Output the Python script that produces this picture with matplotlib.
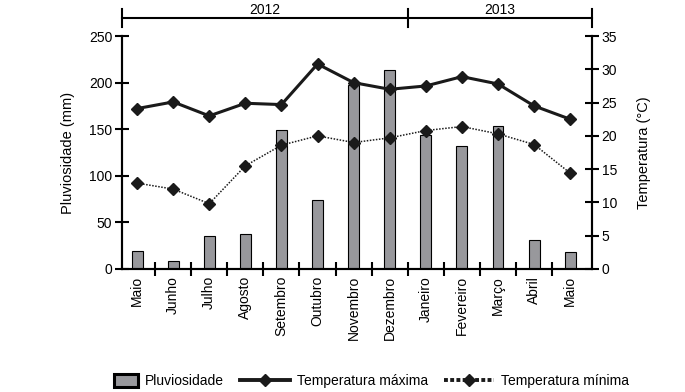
import matplotlib
matplotlib.use("Agg")
import matplotlib.pyplot as plt
import matplotlib.transforms as mtrans
from matplotlib.patches import Patch, Rectangle
from matplotlib.lines import Line2D
from matplotlib.legend_handler import HandlerPatch
import numpy as np

plt.rcParams['font.family'] = ['Liberation Sans', 'DejaVu Sans']
plt.rcParams['font.size'] = 10

meses = ['Maio', 'Junho', 'Julho', 'Agosto', 'Setembro', 'Outubro', 'Novembro',
         'Dezembro', 'Janeiro', 'Fevereiro', 'Março', 'Abril', 'Maio']
pluviosidade = [19, 9, 35, 38, 149, 74, 197, 214, 144, 132, 153, 31, 18]
temp_max = [24.1, 25.1, 23.0, 24.9, 24.7, 30.8, 28.0, 27.0, 27.5, 28.9, 27.8, 24.5, 22.5]
temp_min = [12.9, 12.0, 9.8, 15.5, 18.6, 20.0, 19.0, 19.7, 20.8, 21.4, 20.3, 18.7, 14.4]
anos = ['2012', '2013']
n_2012 = 8

x = np.arange(len(meses))

fig = plt.figure(figsize=(6.85, 3.92), dpi=100)
ax = fig.add_axes([0.178, 0.314, 0.686, 0.594])
ax2 = ax.twinx()

ax.bar(x, pluviosidade, width=0.3, color='#98989c', edgecolor='black', linewidth=0.8, zorder=1)
ax.set_ylim(0, 250)
ax.set_yticks(np.arange(0, 251, 50))
ax.set_xlim(-0.42, 12.6)
ax.set_xticks(x)
ax.set_xticklabels(meses, rotation=90)
ax.tick_params(axis='x', length=0, pad=5)
ax.set_xticks(x[:-1] + 0.5, minor=True)
ax.tick_params(axis='x', which='minor', direction='inout', length=10, width=1.5)
ax.tick_params(axis='y', direction='inout', length=10, width=1.5, pad=2)
ax.set_ylabel('Pluviosidade (mm)', fontsize=10.5, labelpad=10)

ax2.plot(x, temp_max, color='#1a1a1a', lw=2.2, marker='D', ms=6.5, zorder=3)
ax2.plot(x, temp_min, color='#1a1a1a', lw=1.1, ls=(0, (1, 1)), marker='D', ms=6.5, zorder=3)
ax2.set_ylim(0, 35)
ax2.set_yticks(np.arange(0, 36, 5))
ax2.tick_params(axis='y', direction='inout', length=10, width=1.5, pad=2)
ax2.set_ylabel('Temperatura (°C)', fontsize=10.5, labelpad=14)

for a in (ax, ax2):
    a.spines['top'].set_visible(False)
    for s in ('left', 'right', 'bottom'):
        a.spines[s].set_linewidth(1.5)

# year bracket above the axes
tr = mtrans.blended_transform_factory(ax.transData, ax.transAxes)
x0, x1 = ax.get_xlim()
div = n_2012 - 0.5
yb = 1.078
ax.plot([x0, x1], [yb, yb], color='black', lw=1.5, transform=tr, clip_on=False)
for xv in (x0, div, x1):
    ax.plot([xv, xv], [yb - 0.04, yb + 0.04], color='black', lw=1.5, transform=tr, clip_on=False)
ax.text((x0 + div) / 2, yb + 0.006, anos[0], ha='center', va='bottom', transform=tr)
ax.text((div + x1) / 2, yb + 0.006, anos[1], ha='center', va='bottom', transform=tr)


def small_box(legend, orig_handle, xdescent, ydescent, width, height, fontsize):
    w = width * 0.48
    return Rectangle((width - w - xdescent, -ydescent - height * 0.15), w, height * 1.3)


handles = [
    Patch(facecolor='#98989c', edgecolor='black', linewidth=2.2),
    Line2D([], [], color='#1a1a1a', lw=2.8, marker='D', ms=6),
    Line2D([], [], color='#1a1a1a', lw=2.8, ls=(0, (1, 0.6)), marker='D', ms=6),
]
labels = ['Pluviosidade', 'Temperatura máxima', 'Temperatura mínima']
fig.legend(handles, labels, loc='lower center', bbox_to_anchor=(0.523, -0.022), ncol=3,
           frameon=False, fontsize=10, handlelength=3.6, columnspacing=1.15,
           handletextpad=0.5, handler_map={Patch: HandlerPatch(patch_func=small_box)})

fig.savefig('out.png', dpi=100)
